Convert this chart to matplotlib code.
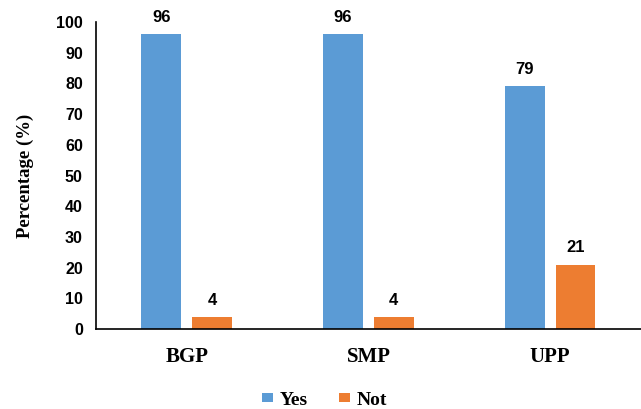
import matplotlib.pyplot as plt
import numpy as np

sites = ['BGP', 'SMP', 'UPP']
yes = [96, 96, 79]
no = [4, 4, 21]

fig = plt.figure(figsize=(6.41, 4.09), dpi=100)
ax = fig.add_axes([0.1498, 0.1956, 0.85, 0.7506])

x = np.arange(len(sites))
w = 0.22
b1 = ax.bar(x - 0.14, yes, w, color='#5B9BD5', label='Yes')
b2 = ax.bar(x + 0.14, no, w, color='#ED7D31', label='Not')

for bars in (b1, b2):
    for r in bars:
        ax.text(r.get_x() + r.get_width() / 2, r.get_height() + 3.0, '%d' % r.get_height(),
                ha='center', va='bottom', fontsize=12, fontweight='bold',
                family='Liberation Sans')

ax.set_xlim(-0.5, 2.5)
ax.set_ylim(0, 100)
ax.set_yticks(range(0, 101, 10))
ax.set_xticks(x)
ax.set_xticklabels(sites, family='Liberation Serif', fontweight='bold', fontsize=15)
for t in ax.get_yticklabels():
    t.set_family('Liberation Sans')
    t.set_fontweight('bold')
    t.set_fontsize(11.5)
ax.tick_params(axis='both', length=0)
ax.tick_params(axis='x', pad=13)
ax.tick_params(axis='y', pad=9.5)
ax.spines['top'].set_visible(False)
ax.spines['right'].set_visible(False)
ax.spines['left'].set_linewidth(1.2)
ax.spines['bottom'].set_linewidth(1.2)
ax.set_ylabel('Percentage (%)', family='Liberation Serif', fontweight='bold', fontsize=13.5, labelpad=16)

fig.legend(handles=[b1, b2], loc='lower center', bbox_to_anchor=(0.506, -0.042), ncol=2, frameon=False,
           prop={'family': 'Liberation Serif', 'weight': 'bold', 'size': 14},
           handlelength=0.57, handleheight=0.36, handletextpad=0.35, columnspacing=1.6)

fig.savefig('out.png', dpi=100)
